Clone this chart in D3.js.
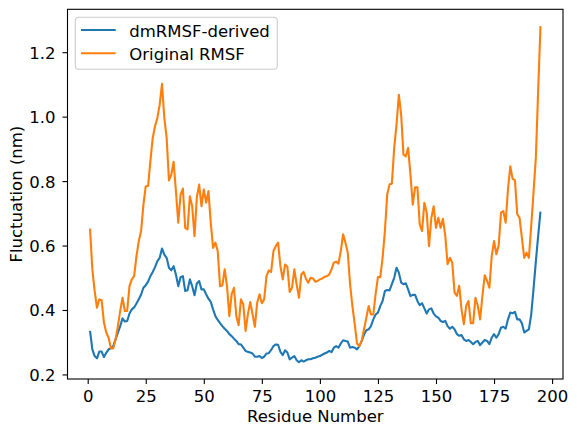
<!DOCTYPE html>
<html>
<head>
<meta charset="utf-8">
<script src="https://cdn.jsdelivr.net/npm/d3@7"></script>
<style>
  body { margin: 0; background: #fff; }
  svg { display: block; }
</style>
</head>
<body>
<div id="chart"></div>
<script>
// residue numbers 1..195
var residues = d3.range(1, 196);

var dmrmsf = [
  0.335, 0.278, 0.257, 0.250, 0.271, 0.271, 0.254, 0.267, 0.278, 0.281,
  0.288, 0.309, 0.330, 0.350, 0.374, 0.364, 0.366, 0.389, 0.402, 0.408,
  0.420, 0.433, 0.448, 0.469, 0.477, 0.488, 0.505, 0.518, 0.533, 0.552,
  0.562, 0.591, 0.572, 0.562, 0.531, 0.523, 0.536, 0.510, 0.474, 0.502,
  0.505, 0.459, 0.461, 0.495, 0.474, 0.446, 0.482, 0.490, 0.464, 0.464,
  0.449, 0.435, 0.425, 0.402, 0.381, 0.369, 0.359, 0.350, 0.342, 0.335,
  0.325, 0.319, 0.311, 0.304, 0.294, 0.293, 0.283, 0.273, 0.270, 0.268,
  0.265, 0.255, 0.255, 0.257, 0.251, 0.255, 0.265, 0.266, 0.276, 0.288,
  0.293, 0.292, 0.270, 0.260, 0.275, 0.268, 0.247, 0.252, 0.257, 0.244,
  0.238, 0.244, 0.240, 0.244, 0.247, 0.247, 0.250, 0.252, 0.255, 0.257,
  0.261, 0.265, 0.268, 0.273, 0.269, 0.283, 0.288, 0.283, 0.296, 0.306,
  0.304, 0.302, 0.283, 0.285, 0.283, 0.278, 0.288, 0.304, 0.323, 0.337,
  0.340, 0.350, 0.371, 0.386, 0.392, 0.412, 0.428, 0.459, 0.462, 0.461,
  0.480, 0.500, 0.531, 0.516, 0.485, 0.480, 0.483, 0.464, 0.443, 0.447,
  0.447, 0.428, 0.415, 0.421, 0.405, 0.389, 0.402, 0.405, 0.389, 0.380,
  0.376, 0.366, 0.363, 0.366, 0.350, 0.342, 0.348, 0.340, 0.325, 0.320,
  0.322, 0.309, 0.304, 0.307, 0.301, 0.294, 0.301, 0.304, 0.291, 0.299,
  0.307, 0.304, 0.294, 0.314, 0.325, 0.314, 0.325, 0.345, 0.348, 0.342,
  0.371, 0.392, 0.390, 0.394, 0.371, 0.371, 0.359, 0.330, 0.335, 0.340,
  0.385, 0.465, 0.550, 0.630, 0.705
];

var original = [
  0.653, 0.526, 0.459, 0.407, 0.433, 0.430, 0.361, 0.330, 0.314, 0.281,
  0.281, 0.309, 0.350, 0.397, 0.438, 0.397, 0.397, 0.474, 0.495, 0.505,
  0.567, 0.614, 0.645, 0.727, 0.784, 0.785, 0.862, 0.934, 0.970, 0.996,
  1.037, 1.102, 0.996, 0.934, 0.802, 0.820, 0.860, 0.769, 0.671, 0.758,
  0.777, 0.655, 0.650, 0.753, 0.722, 0.629, 0.750, 0.789, 0.722, 0.774,
  0.733, 0.769, 0.671, 0.593, 0.609, 0.583, 0.474, 0.476, 0.526, 0.474,
  0.381, 0.449, 0.469, 0.381, 0.353, 0.433, 0.418, 0.335, 0.387, 0.425,
  0.387, 0.348, 0.423, 0.449, 0.421, 0.433, 0.505, 0.523, 0.518, 0.583,
  0.598, 0.609, 0.536, 0.495, 0.541, 0.534, 0.456, 0.469, 0.526, 0.479,
  0.438, 0.510, 0.518, 0.497, 0.485, 0.500, 0.498, 0.488, 0.490, 0.495,
  0.498, 0.503, 0.505, 0.510, 0.526, 0.547, 0.550, 0.544, 0.583, 0.635,
  0.609, 0.578, 0.480, 0.412, 0.356, 0.296, 0.288, 0.304, 0.340, 0.376,
  0.412, 0.386, 0.386, 0.449, 0.502, 0.502, 0.562, 0.645, 0.759, 0.790,
  0.792, 0.903, 0.975, 1.068, 1.006, 0.882, 0.877, 0.903, 0.820, 0.727,
  0.781, 0.781, 0.666, 0.645, 0.733, 0.702, 0.598, 0.686, 0.722, 0.655,
  0.686, 0.655, 0.683, 0.630, 0.542, 0.562, 0.547, 0.454, 0.444, 0.475,
  0.402, 0.356, 0.413, 0.428, 0.359, 0.359, 0.438, 0.413, 0.371, 0.444,
  0.508, 0.490, 0.469, 0.567, 0.614, 0.573, 0.600, 0.702, 0.707, 0.671,
  0.774, 0.846, 0.807, 0.803, 0.697, 0.686, 0.624, 0.562, 0.578, 0.562,
  0.660, 0.764, 0.872, 1.079, 1.281
];

var seriesNames = ["dmRMSF-derived", "Original RMSF"];
var seriesColors = ["#1f77b4", "#ff7f0e"];
var xTicks = [0, 25, 50, 75, 100, 125, 150, 175, 200];
var yTicks = [0.2, 0.4, 0.6, 0.8, 1.0, 1.2];

var w = 577, h = 434,
    plotLeft = 67.5, plotRight = 563, plotTop = 9.3, plotBottom = 379,
    fontSize = "16.5px",
    font = "'DejaVu Sans', sans-serif";

var svg = d3.select("#chart")
    .append("svg")
    .attr("width", w)
    .attr("height", h)
    .style("background-color", "white");

// matplotlib style 5% margins
var xMin = d3.min(residues), xMax = d3.max(residues);
var xPad = (xMax - xMin) * 0.05;
var allVals = dmrmsf.concat(original);
var yMin = d3.min(allVals), yMax = d3.max(allVals);
var yPad = (yMax - yMin) * 0.05;

var xScale = d3.scaleLinear()
    .domain([xMin - xPad, xMax + xPad])
    .range([plotLeft, plotRight]);
var yScale = d3.scaleLinear()
    .domain([yMin - yPad, yMax + yPad])
    .range([plotBottom, plotTop]);

var line = d3.line()
    .x(function (d, i) { return xScale(residues[i]); })
    .y(function (d) { return yScale(d); });

[dmrmsf, original].forEach(function (vals, k) {
    svg.append("path")
        .datum(vals)
        .attr("d", line)
        .attr("fill", "none")
        .attr("stroke", seriesColors[k])
        .attr("stroke-width", 2.1)
        .attr("stroke-linejoin", "round");
});

// axes
var xAxis = d3.axisBottom(xScale)
    .tickValues(xTicks)
    .tickSize(5)
    .tickSizeOuter(0)
    .tickPadding(5.8)
    .tickFormat(d3.format("d"));
var yAxis = d3.axisLeft(yScale)
    .tickValues(yTicks)
    .tickSize(5)
    .tickSizeOuter(0)
    .tickPadding(7)
    .tickFormat(d3.format(".1f"));

var gx = svg.append("g")
    .attr("transform", "translate(0," + plotBottom + ")")
    .call(xAxis);
var gy = svg.append("g")
    .attr("transform", "translate(" + plotLeft + ",0)")
    .call(yAxis);

[gx, gy].forEach(function (g) {
    g.select(".domain").remove();
    g.selectAll(".tick line").attr("stroke", "black").attr("stroke-width", 1.1);
    g.selectAll(".tick text")
        .attr("fill", "black")
        .style("font-family", font)
        .style("font-size", fontSize);
});
gy.selectAll(".tick text").attr("dy", "0.36em");

// frame
svg.append("rect")
    .attr("x", plotLeft)
    .attr("y", plotTop)
    .attr("width", plotRight - plotLeft)
    .attr("height", plotBottom - plotTop)
    .attr("fill", "none")
    .attr("stroke", "black")
    .attr("stroke-width", 1.1);

// labels
svg.append("text")
    .attr("x", (plotLeft + plotRight) / 2)
    .attr("y", 421.5)
    .attr("text-anchor", "middle")
    .style("font-family", font)
    .style("font-size", fontSize)
    .text("Residue Number");

svg.append("text")
    .attr("transform", "translate(22," + (plotTop + plotBottom) / 2 + ") rotate(-90)")
    .attr("text-anchor", "middle")
    .style("font-family", font)
    .style("font-size", fontSize)
    .text("Fluctuation (nm)");

// legend
var legend = svg.append("g");
legend.append("rect")
    .attr("x", 75.3)
    .attr("y", 17.3)
    .attr("width", 202)
    .attr("height", 52)
    .attr("rx", 3.5)
    .attr("fill", "white")
    .attr("fill-opacity", 0.8)
    .attr("stroke", "#cccccc")
    .attr("stroke-width", 1.1);

seriesNames.forEach(function (name, k) {
    var ry = 30 + k * 23.3;
    legend.append("line")
        .attr("x1", 81)
        .attr("x2", 115.7)
        .attr("y1", ry)
        .attr("y2", ry)
        .attr("stroke", seriesColors[k])
        .attr("stroke-width", 2.1);
    legend.append("text")
        .attr("x", 129.3)
        .attr("y", ry + 7)
        .style("font-family", font)
        .style("font-size", fontSize)
        .text(name);
});
</script>
</body>
</html>
